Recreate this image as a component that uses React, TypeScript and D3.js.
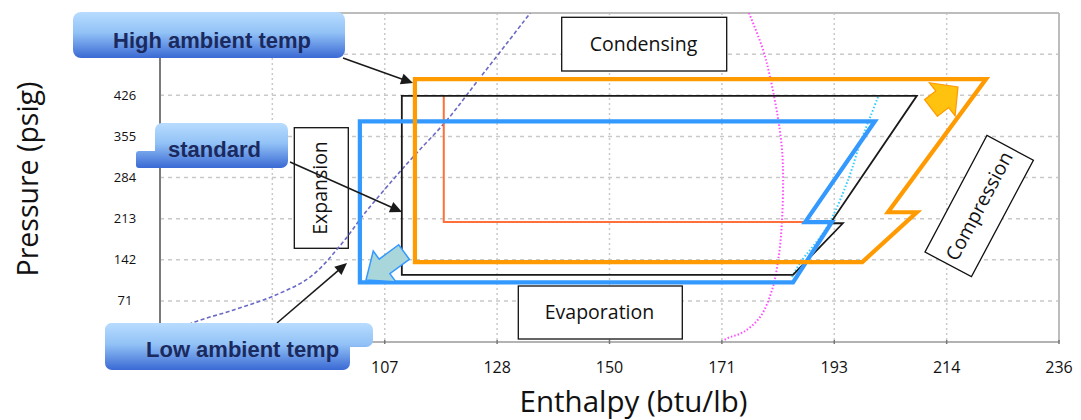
import React from "react";
import * as d3 from "d3";

// ---------- axes ----------
const xGridValues = [85.71, 107.14, 128.57, 150, 171.43, 192.86, 214.29];
const xTickValues = [107.14, 128.57, 150, 171.43, 192.86, 214.29, 235.71];
const xTickLabels = ["107", "128", "150", "171", "193", "214", "236"];
const yGridValues = [71, 142, 213, 284, 355, 426, 497];
const yTickValues = [71, 142, 213, 284, 355, 426];
const yTickLabels = ["71", "142", "213", "284", "355", "426"];

// ---------- refrigeration cycles: enthalpy (btu/lb) / pressure (psig) ----------
const highH = [112.9, 112.9, 221.8, 203.1, 208.6, 198.2];
const highP = [138, 454, 454, 224, 224, 138];
const stdH = [110.4, 110.4, 208.6, 192.1, 194.5, 185.0];
const stdP = [116, 425, 425, 205, 205, 116];
const lowH = [102.4, 102.4, 200.6, 187.3, 192.4, 185.0];
const lowP = [103, 381, 381, 207, 207, 103];
const subH = [118.4, 118.4, 187.3];
const subP = [425, 207, 207];

// saturated liquid line (purple dashed)
const liqH = [65.2, 70.4, 78.2, 85.8, 92.9, 98.6, 103.4, 108.7, 112.5, 119.0, 124.7, 134.9];
const liqP = [12, 33, 55, 79, 112, 166, 223, 280, 319, 383, 449, 568];
// magenta dotted curve
const magH = [176.6, 179.3, 180.6, 182.1, 182.9, 183.1, 182.9, 182.3, 181.0, 178.7, 175.5, 172.6, 171.6];
const magP = [568, 504, 458, 388, 332, 280, 211, 150, 90, 43, 17, 7, 2];
// cyan dotted curve
const cyanH = [184.8, 186.3, 191.5, 195.5, 197.8, 199.7, 201.2];
const cyanP = [112, 136, 199, 280, 344, 388, 423];

const FONT = "'Open Sans', 'Noto Sans', sans-serif";
const BOLD = "'Liberation Sans', Arial, sans-serif";

type P = [number, number];
const zip = (a: number[], b: number[]): P[] => a.map((v, i) => [v, b[i]] as P);

function arrowHead(x1: number, y1: number, x2: number, y2: number, len = 11, half = 5) {
  const dx = x2 - x1, dy = y2 - y1;
  const L = Math.hypot(dx, dy);
  const ux = dx / L, uy = dy / L;
  const nx = -uy, ny = ux;
  const bx = x2 - ux * len, by = y2 - uy * len;
  return `M${x2},${y2}L${bx + nx * half},${by + ny * half}L${bx - nx * half},${by - ny * half}Z`;
}

function blockArrow(tx: number, ty: number, px: number, py: number, headLen: number, headHalf: number, shaftHalf: number) {
  const dx = px - tx, dy = py - ty;
  const L = Math.hypot(dx, dy);
  const ux = dx / L, uy = dy / L;
  const nx = -uy, ny = ux;
  const bx = tx + ux * (L - headLen), by = ty + uy * (L - headLen);
  const pts: P[] = [
    [tx + nx * shaftHalf, ty + ny * shaftHalf],
    [bx + nx * shaftHalf, by + ny * shaftHalf],
    [bx + nx * headHalf, by + ny * headHalf],
    [px, py],
    [bx - nx * headHalf, by - ny * headHalf],
    [bx - nx * shaftHalf, by - ny * shaftHalf],
    [tx - nx * shaftHalf, ty - ny * shaftHalf],
  ];
  return "M" + pts.map((p) => p.join(",")).join("L") + "Z";
}

function Gradient({ id, y1, y2 }: { id: string; y1: number; y2: number }) {
  return (
    <linearGradient id={id} gradientUnits="userSpaceOnUse" x1={0} x2={0} y1={y1} y2={y2}>
      <stop offset="0%" stopColor="#B8DCFF" />
      <stop offset="45%" stopColor="#92C2F6" />
      <stop offset="100%" stopColor="#3A69D4" />
    </linearGradient>
  );
}

export default function App() {
  const x = d3.scaleLinear().domain([64.29, 235.71]).range([160, 1059]);
  const y = d3.scaleLinear().domain([0, 568]).range([342, 13]);
  const [x0, x1] = x.range();
  const [yb, yt] = y.range();

  const closed = d3.line<P>().x((d) => x(d[0])).y((d) => y(d[1])).curve(d3.curveLinearClosed);
  const open = d3.line<P>().x((d) => x(d[0])).y((d) => y(d[1]));
  const smooth = d3.line<P>().x((d) => x(d[0])).y((d) => y(d[1])).curve(d3.curveCatmullRom.alpha(0.5));

  const navy = "#1B2A5E";

  return (
    <svg width={1081} height={420} style={{ position: "absolute", left: 0, top: 0, display: "block", background: "#fff" }}>
      <defs>
        <Gradient id="g1" y1={12} y2={58} />
        <Gradient id="g2" y1={123} y2={168} />
        <Gradient id="g3" y1={323} y2={370} />
        <clipPath id="plot">
          <rect x={x0} y={yt} width={x1 - x0} height={yb - yt} />
        </clipPath>
      </defs>

      {/* grid */}
      {yGridValues.map((v) => (
        <line key={"hy" + v} x1={x0} x2={x1} y1={y(v)} y2={y(v)} stroke="#C9C9C9" strokeWidth={1.5} strokeDasharray="4,4" />
      ))}
      {xGridValues.map((v) => (
        <line key={"vx" + v} x1={x(v)} x2={x(v)} y1={yt} y2={yb} stroke="#C9C9C9" strokeWidth={1.5} strokeDasharray="2,3" />
      ))}
      {/* frame */}
      <line x1={x0} x2={x1} y1={yt} y2={yt} stroke="#BDBDBD" strokeWidth={2} />
      <line x1={x1} x2={x1} y1={yt} y2={yb} stroke="#BDBDBD" strokeWidth={2} />
      <line x1={x0} x2={x1} y1={yb} y2={yb} stroke="#9A9A9A" strokeWidth={1.5} />
      {xTickValues.map((v) => (
        <line key={"tx" + v} x1={x(v)} x2={x(v)} y1={yb - 2} y2={yb + 2} stroke="#777" strokeWidth={1.5} />
      ))}
      <line x1={x0} x2={x0} y1={yt} y2={yb} stroke="#7A7A7A" strokeWidth={2} />

      {/* tick labels */}
      {xTickValues.map((v, i) => (
        <text key={"lx" + v} x={x(v)} y={372.5} textAnchor="middle" fontFamily={FONT} fontSize={16} fill="#111">
          {xTickLabels[i]}
        </text>
      ))}
      {yTickValues.map((v, i) => (
        <text key={"ly" + v} x={125} y={y(v)} dy="0.35em" textAnchor="middle" fontFamily={FONT} fontSize={13} fill="#111">
          {yTickLabels[i]}
        </text>
      ))}

      {/* axis titles */}
      <text x={633.5} y={411.5} textAnchor="middle" fontFamily={FONT} fontSize={29.5} fill="#111">
        Enthalpy (btu/lb)
      </text>
      <text transform="translate(38,179) rotate(-90)" textAnchor="middle" fontFamily={FONT} fontSize={28.5} fill="#111">
        Pressure (psig)
      </text>

      {/* text boxes */}
      <rect x={561.7} y={17.3} width={165} height={53.7} fill="#fff" stroke="#111" strokeWidth={1.3} />
      <text x={643.5} y={50.7} textAnchor="middle" fontFamily={FONT} fontSize={19.5} fill="#111">
        Condensing
      </text>
      <rect x={518.3} y={286} width={164} height={53} fill="#fff" stroke="#111" strokeWidth={1.3} />
      <text x={599.5} y={319.3} textAnchor="middle" fontFamily={FONT} fontSize={19.5} fill="#111">
        Evaporation
      </text>
      <rect x={294.3} y={127.7} width={54} height={120.6} fill="#fff" stroke="#111" strokeWidth={1.3} />
      <text transform="translate(327,188) rotate(-90)" textAnchor="middle" fontFamily={FONT} fontSize={19.5} fill="#111">
        Expansion
      </text>
      <g transform="translate(979.2,206.1) rotate(-62)">
        <rect x={-66} y={-26.3} width={132} height={52.6} fill="#fff" stroke="#111" strokeWidth={1.3} />
        <text x={0} y={0} dy="0.35em" textAnchor="middle" fontFamily={FONT} fontSize={19.5} fill="#111">
          Compression
        </text>
      </g>

      {/* property curves */}
      <g clipPath="url(#plot)">
        <path d={smooth(zip(liqH, liqP)) || ""} fill="none" stroke="#6A6AC6" strokeWidth={1.6} strokeDasharray="4,2.5" />
        <path d={smooth(zip(magH, magP)) || ""} fill="none" stroke="#FF4DFF" strokeWidth={2} strokeDasharray="1.5,2" />
        <path d={smooth(zip(cyanH, cyanP)) || ""} fill="none" stroke="#33CCFF" strokeWidth={2} strokeDasharray="1.5,2" />
      </g>

      {/* cycles */}
      <path d={open(zip(subH, subP)) || ""} fill="none" stroke="#FF6F3A" strokeWidth={2} />
      <path d={closed(zip(stdH, stdP)) || ""} fill="none" stroke="#1A1A1A" strokeWidth={1.8} strokeLinejoin="miter" />
      <path d={closed(zip(lowH, lowP)) || ""} fill="none" stroke="#3399FF" strokeWidth={4.2} strokeLinejoin="miter" />
      <path d={closed(zip(highH, highP)) || ""} fill="none" stroke="#FF9A00" strokeWidth={4.2} strokeLinejoin="miter" />

      {/* block arrows */}
      <path d={blockArrow(404, 252, 366, 280, 23, 19, 9)} fill="#A9D6DA" stroke="#3399FF" strokeWidth={1.5} strokeLinejoin="miter" />
      <path d={blockArrow(931, 108, 958, 87, 20, 21, 10.5)} fill="#FFC20E" stroke="#FF9A00" strokeWidth={1.2} strokeLinejoin="miter" />

      {/* pointer arrows */}
      {[
        [343, 58, 413, 83],
        [290, 162, 402, 212],
        [277, 323, 347, 263],
      ].map(([a, b, c, d], i) => (
        <g key={"ar" + i}>
          <line x1={a} y1={b} x2={c - ((c - a) / Math.hypot(c - a, d - b)) * 9} y2={d - ((d - b) / Math.hypot(c - a, d - b)) * 9} stroke="#1A1A1A" strokeWidth={1.6} />
          <path d={arrowHead(a, b, c, d, 12, 5.5)} fill="#1A1A1A" />
        </g>
      ))}

      {/* callouts */}
      <rect x={73} y={12} width={272} height={46} rx={8} fill="url(#g1)" />
      <text x={113} y={48} fontFamily={BOLD} fontWeight="bold" fontSize={22} fill={navy}>
        High ambient temp
      </text>

      <rect x={136} y={151} width={32} height={17} rx={3} fill="url(#g2)" />
      <rect x={155} y={123} width={133} height={45} rx={7} fill="url(#g2)" />
      <text x={168} y={157} fontFamily={BOLD} fontWeight="bold" fontSize={22} fill={navy}>
        standard
      </text>

      <rect x={105} y={323} width={268} height={24} rx={7} fill="url(#g3)" />
      <rect x={105} y={323} width={245} height={47} rx={7} fill="url(#g3)" />
      <text x={146} y={357} fontFamily={BOLD} fontWeight="bold" fontSize={22} fill={navy}>
        Low ambient temp
      </text>
    </svg>
  );
}
